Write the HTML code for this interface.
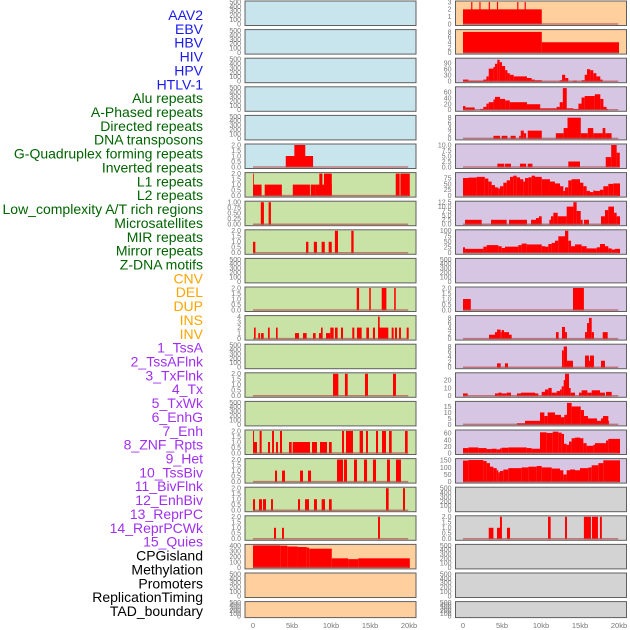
<!DOCTYPE html>
<html><head><meta charset="utf-8"><style>
html,body{margin:0;padding:0;background:#fff;}
svg{display:block;font-family:"Liberation Sans",sans-serif;}
</style></head><body>
<svg id="chart" width="630" height="630" viewBox="0 0 630 630" xmlns="http://www.w3.org/2000/svg">
<g id="labels"></g>
<g id="panels"></g>
<g id="xaxes"></g>
</svg>
<script>
const NS="http://www.w3.org/2000/svg";
const trackLabels=["AAV2","EBV","HBV","HIV","HPV","HTLV-1","Alu repeats","A-Phased repeats","Directed repeats","DNA transposons","G-Quadruplex forming repeats","Inverted repeats","L1 repeats","L2 repeats","Low_complexity A/T rich regions","Microsatellites","MIR repeats","Mirror repeats","Z-DNA motifs","CNV","DEL","DUP","INS","INV","1_TssA","2_TssAFlnk","3_TxFlnk","4_Tx","5_TxWk","6_EnhG","7_Enh","8_ZNF_Rpts","9_Het","10_TssBiv","11_BivFlnk","12_EnhBiv","13_ReprPC","14_ReprPCWk","15_Quies","CPGisland","Methylation","Promoters","ReplicationTiming","TAD_boundary"];
const labelGroups=[6,13,5,15,5];
const labelColors=["#1a1aee","#006400","#ffa500","#a030f0","#000000"];
const xTicks=[0,5,10,15,20];
const xTickLabels=["0","5kb","10kb","15kb","20kb"];
const ticks500=[0,100,200,300,400,500];
const ticks2=[0,0.5,1,1.5,2];
const ticks2Lbl=["0.0","0.5","1.0","1.5","2.0"];

const gquadSegs=[[4.2,7.7,1],[5.3,6.7,2]];
const l1Segs=[[0,0.1,2],[0,1.1,1],[1.5,3.7,1],[5.1,7.3,1],[7.4,8.0,1],[8.0,10.1,1],[8.5,8.9,2],[9.1,10.1,2],[18.3,18.8,2],[18.9,20.1,2]];
const lowcSegs=[[1.0,1.4,1],[2.0,2.3,1]];
const microSegs=[[0,0.3,1],[6.8,7.1,1],[7.8,8.2,1],[8.8,9.2,1],[9.7,10.1,1],[10.5,10.9,2],[12.6,12.9,2]];
const mirrorSegs=[[13.3,13.6,2],[14.9,15.1,2],[16.5,17.1,2],[18.1,18.3,2]];
const zdnaSegs=[[0.13,0.34,2],[0.68,0.9,1],[1.03,1.37,1],[1.92,2.14,2],[2.95,3.16,2],[5.38,5.9,1],[6.41,6.88,1],[7.69,8.03,1],[8.46,8.8,1],[8.72,8.93,2],[9.36,9.91,1],[9.91,10.34,2],[10.51,10.85,2],[11.28,11.54,2],[12.73,12.99,2],[13.33,13.93,2],[14.53,14.87,2],[15.38,15.64,2],[16.03,16.24,4],[16.15,17.35,2],[17.78,18.03,2],[18.2,18.46,2],[18.72,18.97,2],[19.7,19.96,2]];
const delSegs=[[10.26,10.94,2],[11.79,12.14,2],[14.36,14.74,2],[17.95,18.33,2]];
const insSegs=[[0,0.51,1],[1.92,2.18,1],[2.95,3.2,1],[4.62,4.96,1],[5.09,7.31,1],[7.56,8.2,1],[8.59,9.49,1],[9.74,10.09,1],[0,0.13,2],[0.85,1.11,2],[2.44,2.69,2],[3.46,3.72,2],[11.41,11.67,2],[11.92,12.82,2],[13.67,14.1,2],[14.49,14.74,2],[15.77,16.03,2],[16.54,17.05,2],[17.44,17.78,2],[19.49,19.83,2]];
const invSegs=[[10.77,11.54,2],[11.67,12.05,2],[12.95,13.33,2],[14.23,14.62,2],[15.38,15.77,2],[17.18,17.56,2],[18.33,18.97,2],[2.82,3.08,1],[3.72,4.1,1],[6.03,6.41,1],[7.05,7.44,1]];
const tssaSegs=[[0,0.26,1],[0.77,1.15,1],[1.28,1.67,1],[2.31,2.56,1],[5.77,6.03,1],[6.67,7.18,1],[7.82,8.2,1],[8.8,9.23,1],[9.74,10.09,1],[17.05,17.39,2],[19.23,19.49,2]];
const tssflSegs=[[2.69,2.95,1],[3.72,3.97,1],[16.03,16.28,2]];
const methSegs=[[0,3.5,400],[3.5,4.4,395],[4.4,5.7,380],[5.7,6.9,370],[6.9,7.2,360],[7.2,10.1,340],[10.1,12.2,165],[12.2,13.5,150],[13.5,20.1,165]];
const aav2Segs=[[0,10.1,2],[1.05,1.2,3],[2.1,2.25,3],[3.3,3.45,3],[4.35,4.5,3],[6.95,7.1,3],[7.9,8.05,3]];
const ebvSegs=[[0,10.1,8],[10.1,20,4]];
const hivSegs=[[0,0.7,8],[0.7,2.6,3],[2.6,3.0,8],[3.0,3.3,24],[3.3,3.9,63],[3.9,4.1,71],[4.1,4.4,87],[4.4,4.7,107],[4.7,5.0,95],[5.0,5.4,76],[5.4,5.7,55],[5.7,6.0,40],[6.0,6.5,32],[6.5,8.2,24],[8.2,8.8,16],[8.8,9.2,8],[9.2,10.1,5],[12.4,12.7,5],[12.7,13.1,32],[13.1,13.5,16],[14.1,14.6,3],[15.2,15.6,5],[15.6,15.9,32],[15.9,16.3,60],[16.3,16.7,55],[16.7,17.1,40],[17.1,17.6,24],[17.6,17.9,8]];
const hpvSegs=[[0,0.3,13],[0.3,1.5,8],[2.2,2.6,3],[2.6,3.0,10],[3.0,3.3,21],[3.3,3.9,26],[3.9,4.1,35],[4.1,4.75,44],[4.75,5.4,37],[5.4,6.0,32],[6.0,8.2,26],[8.2,9.9,19],[9.9,12.0,5],[12.0,12.4,10],[12.4,12.8,26],[12.8,13.3,74],[13.3,14.15,5],[14.15,14.8,3],[14.8,15.2,21],[15.2,15.6,42],[15.6,16.9,47],[16.9,17.6,53],[17.6,18.0,37],[18.0,18.4,10],[18.4,18.6,3]];
const htlvSegs=[[3.9,4.75,1],[4.95,5.7,1],[6.1,6.75,1],[7.2,7.4,1],[7.4,7.8,3],[7.8,8.1,2],[8.3,10.1,3],[11.9,12.9,2],[12.9,13.4,4],[13.4,15.1,8],[15.1,16.0,2],[16.0,16.7,4],[16.7,17.9,2],[17.9,18.25,4],[18.25,19.05,2]];
const aluSegs=[[4.4,5.3,1.5],[5.4,6.15,1.5],[7.3,8.1,1.5],[8.3,8.9,1.5],[13.5,15.0,2.5],[18.3,19.0,4.5],[19.0,19.7,10],[19.7,20.1,6.5]];
const aphSegs=[[0.26,2.39,2.5],[3.59,5.6,2.5],[5.9,8.2,2.5],[8.72,9.36,2.5],[9.36,9.74,3.5],[9.74,10.09,4.5],[11.07,11.28,2.5],[11.28,11.58,4.5],[11.58,12.14,6.5],[12.14,13.29,4.5],[13.29,14.15,10],[14.15,14.57,12.5],[14.57,15.09,7.5],[15.09,15.34,2.5],[15.51,16.15,2.5],[17.69,18.2,4.5],[18.2,18.63,8],[18.63,19.36,10],[19.36,19.7,6.5],[19.7,20.13,4.5]];
const dnaSegs=[[0,1.0,1],[14.1,15.5,2]];
const ginvSegs=[[3.33,4.1,1.5],[4.1,4.36,2.5],[4.36,4.83,3.5],[4.83,4.96,2.5],[4.96,5.26,3.3],[5.26,5.9,2.5],[5.9,6.24,1.5],[11.92,12.26,2.5],[12.69,13.08,4.5],[13.08,13.33,2.5],[15.64,15.9,2.5],[15.9,16.15,6],[16.15,16.5,8],[16.5,16.79,2.5],[17.91,18.55,2.5]];
const l1bSegs=[[4.36,4.83,1.5],[5.38,5.77,1.5],[12.69,12.91,6.5],[12.91,13.33,8],[13.33,14.1,2.5],[15.64,16.15,4.5],[16.15,16.28,2.5],[16.28,16.79,4.5],[17.69,18.2,2.5]];
const l2Segs=[[0,0.6,3],[4.1,4.53,3],[4.53,4.96,4],[4.96,5.6,3],[5.6,6.15,4],[6.92,7.44,3],[7.44,9.23,4],[9.23,9.66,3],[10.09,10.51,5],[10.51,10.94,8],[10.94,11.37,10],[11.37,12.01,4],[12.01,12.44,6],[12.44,12.65,8],[12.65,12.91,12],[12.91,13.08,20],[13.08,13.59,28],[13.59,13.8,10],[13.8,14.36,4],[14.87,15.21,4],[15.21,15.94,7],[15.94,16.5,4],[16.5,17.56,7],[17.56,18.2,4],[18.33,19.06,5]];
const lowc2Segs=[[6.92,7.95,1],[7.95,9.87,3],[9.87,10.43,10],[10.43,10.85,7],[10.85,11.79,10],[11.79,12.56,8],[12.56,12.99,6],[12.99,13.33,8],[13.33,13.93,18],[13.93,15.09,15],[15.09,15.51,12],[15.51,16.03,7],[16.03,17.18,5],[17.18,17.69,3],[17.69,17.95,5],[17.95,18.63,7],[18.63,18.72,3]];
const cpgSegs=[[3.3,3.9,1],[4.36,4.96,1],[4.74,4.99,2],[5.64,6.03,1],[10.9,11.24,2],[13.08,13.33,2],[15.5,16.4,2],[16.54,17.3,2],[17.56,17.8,2]];
const l1pEdges=[0,0.7,1.75,2.8,3.25,3.67,4.1,4.53,4.74,5.17,5.6,6.03,6.45,6.88,7.31,7.73,7.95,8.38,8.8,9.23,10.09,11.15,11.79,12.44,12.86,13.08,13.5,13.93,15.0,15.43,15.85,16.28,16.71,16.92,17.56,17.99,18.63,19.27,20.13];
const l1pValues=[75,77,80,73,60,45,35,30,40,55,65,80,85,78,70,60,75,78,85,80,70,60,52,40,20,35,65,70,55,40,20,15,22,20,25,40,50,52];
const mirEdges=[0,0.26,2.61,3.03,4.53,4.96,5.38,7.09,7.52,8.16,10.09,10.51,10.94,11.37,11.79,12.22,13.08,13.5,13.85,14.36,15.21,15.85,17.14,17.56,18.2,18.63,19.06,19.49,20.13];
const mirValues=[25,18,28,35,30,22,28,35,42,38,30,28,40,45,55,75,100,55,30,38,30,20,25,40,30,20,15,18];
const enhEdges=[0,0.68,1.97,3.03,3.67,4.32,4.74,4.96,5.81,8.16,8.8,9.87,10.73,11.5,12.22,12.65,12.95,13.29,13.59,13.93,14.36,15.0,15.43,15.85,16.71,16.92,18.33,18.63,20.13];
const enhValues=[15,17,15,12,13,11,14,16,17,15,13,63,61,65,62,58,28,25,35,45,47,45,30,22,25,30,38,43];
const quiesEdges=[0,0.68,2.61,3.03,3.46,3.89,4.32,4.53,4.74,5.17,5.81,7.52,8.38,9.44,10.09,11.37,12.44,12.86,13.29,13.72,14.36,15.0,16.07,16.5,17.35,17.99,20.13];
const quiesValues=[148,152,145,130,105,95,80,65,75,85,95,100,105,110,100,92,80,50,80,85,80,95,100,115,130,150];

function edgesToSegs(e,v){const s=[];for(let i=0;i<v.length;i++)s.push([e[i],e[i+1],v[i]]);return s;}

const BG={b:"#c8e4ec",g:"#c9e2a5",o:"#ffd09e",p:"#d6c5e3",k:"#d3d3d3"};
const panels=[];
const t=(a)=>a.map(String);
for(let r=0;r<5;r++)panels.push([0,r,"b",500,ticks500,t(ticks500),null]);
panels.push([0,5,"b",2,ticks2,ticks2Lbl,gquadSegs]);
panels.push([0,6,"g",2,ticks2,ticks2Lbl,l1Segs]);
panels.push([0,7,"g",1,[0,0.25,0.5,0.75,1],["0.00","0.25","0.50","0.75","1.00"],lowcSegs]);
panels.push([0,8,"g",2,ticks2,ticks2Lbl,microSegs]);
panels.push([0,9,"g",500,ticks500,t(ticks500),null]);
panels.push([0,10,"g",2,ticks2,ticks2Lbl,mirrorSegs]);
panels.push([0,11,"g",4,[0,1,2,3,4],["0","1","2","3","4"],zdnaSegs]);
panels.push([0,12,"g",500,ticks500,t(ticks500),null]);
panels.push([0,13,"g",2,ticks2,ticks2Lbl,delSegs]);
panels.push([0,14,"g",500,ticks500,t(ticks500),null]);
panels.push([0,15,"g",2,ticks2,ticks2Lbl,insSegs]);
panels.push([0,16,"g",2,ticks2,ticks2Lbl,invSegs]);
panels.push([0,17,"g",2,ticks2,ticks2Lbl,tssaSegs]);
panels.push([0,18,"g",2,ticks2,ticks2Lbl,tssflSegs]);
panels.push([0,19,"o",400,[0,100,200,300,400],["0","100","200","300","400"],methSegs]);
panels.push([0,20,"o",500,ticks500,t(ticks500),null]);
panels.push([0,21,"o",500,ticks500,t(ticks500),null]);
panels.push([1,0,"o",3,[0,1,2,3],["0","1","2","3"],aav2Segs]);
panels.push([1,1,"o",8.5,[0,2,4,6,8],["0","2","4","6","8"],ebvSegs]);
panels.push([1,2,"p",110,[0,30,60,90],["0","30","60","90"],hivSegs]);
panels.push([1,3,"p",75,[0,20,40,60],["0","20","40","60"],hpvSegs]);
panels.push([1,4,"p",8.5,[0,2,4,6,8],["0","2","4","6","8"],htlvSegs]);
panels.push([1,5,"p",10,[0,2.5,5,7.5,10],["0.0","2.5","5.0","7.5","10.0"],aluSegs]);
panels.push([1,6,"p",94,[0,25,50,75],["0","25","50","75"],edgesToSegs(l1pEdges,l1pValues)]);
panels.push([1,7,"p",12.5,[0,2.5,5,7.5,10,12.5],["0.0","2.5","5.0","7.5","10.0","12.5"],aphSegs]);
panels.push([1,8,"p",100,[0,25,50,75,100],["0","25","50","75","100"],edgesToSegs(mirEdges,mirValues)]);
panels.push([1,9,"p",500,ticks500,t(ticks500),null]);
panels.push([1,10,"p",2,ticks2,ticks2Lbl,dnaSegs]);
panels.push([1,11,"p",8.5,[0,2,4,6,8],["0","2","4","6","8"],ginvSegs]);
panels.push([1,12,"p",8.5,[0,2,4,6,8],["0","2","4","6","8"],l1bSegs]);
panels.push([1,13,"p",28,[0,10,20],["0","10","20"],l2Segs]);
panels.push([1,14,"p",18.4,[0,5,10,15],["0","5","10","15"],lowc2Segs]);
panels.push([1,15,"p",67,[0,20,40,60],["0","20","40","60"],edgesToSegs(enhEdges,enhValues)]);
panels.push([1,16,"p",155,[0,50,100,150],["0","50","100","150"],edgesToSegs(quiesEdges,quiesValues)]);
panels.push([1,17,"k",500,ticks500,t(ticks500),null]);
panels.push([1,18,"k",2,ticks2,ticks2Lbl,cpgSegs]);
for(let r=19;r<22;r++)panels.push([1,r,"k",500,ticks500,t(ticks500),null]);

const colX=[245,455.5], colW=171, colZero=[253,463], kbPx=7.8;
function rowTop(r){return 1+28.6*r;}
function rowH(r){return r===21?16:24.5;}
function xs(c,kb){return colZero[c]+kbPx*kb;}
function mk(tag,attrs,parent){const e=document.createElementNS(NS,tag);for(const k in attrs)e.setAttribute(k,attrs[k]);parent.appendChild(e);return e;}

const lg=document.getElementById("labels");
let gi=0,cnt=0;
trackLabels.forEach((lab,i)=>{
  while(cnt>=labelGroups[gi]){gi++;cnt=0;}
  cnt++;
  const tx=mk("text",{x:203,y:20+13.86*i,"text-anchor":"end","font-size":"14",fill:labelColors[gi]},lg);
  
  
  tx.textContent=lab;
});

const pg=document.getElementById("panels");
panels.forEach(p=>{
  const [c,r,bg,max,tk,tkl,segs]=p;
  const top=rowTop(r),h=rowH(r);
  const y0=top+h-1.5,y1=top+1;
  const ys=v=>y0-(y0-y1)*v/max;
  const g=mk("g",{},pg);
  
  
  const bgR=mk("rect",{x:colX[c],y:top,width:colW,height:h,fill:BG[bg],stroke:"#606060","stroke-width":"1"},g);
  
  
  tk.forEach((v,i)=>{
    const tx=mk("text",{x:colX[c]-4,y:ys(v)+2.4,"text-anchor":"end","font-size":"7",fill:"#777"},g);
    
    
    tx.textContent=tkl[i];
  });
  if(segs){
    segs.forEach(s=>{
      const x1=xs(c,s[0]),x2=xs(c,s[1]),yy=ys(s[2]);
      const b=mk("rect",{x:x1,y:yy,width:Math.max(0.8,x2-x1),height:y0-yy+0.5,fill:"#ff0000"},g);
      
      
    });
    const bl=mk("line",{x1:xs(c,0),x2:xs(c,19.9),y1:y0,y2:y0,stroke:"#b85050","stroke-opacity":"0.7","stroke-width":"1.5"},g);
    
    
  }
});

const xg=document.getElementById("xaxes");
[0,1].forEach(c=>{
  xTicks.forEach((v,i)=>{
    const tx=mk("text",{x:xs(c,v),y:628,"text-anchor":"middle","font-size":"7.5",fill:"#777"},xg);
    
    
    tx.textContent=xTickLabels[i];
  });
});
</script>
</body></html>
